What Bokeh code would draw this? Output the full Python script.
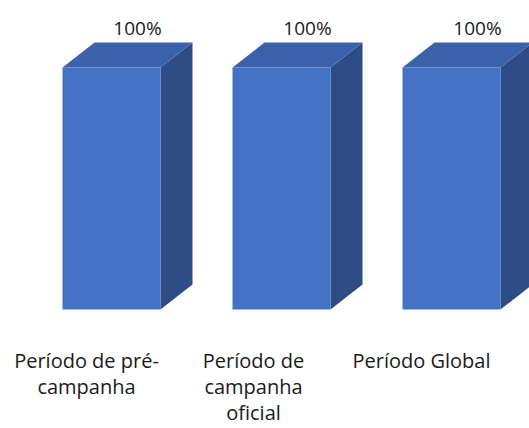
from bokeh.plotting import figure
from bokeh.models import Range1d
from bokeh.embed import file_html
from bokeh.resources import INLINE
from bokeh.core.properties import value

# ---- data ----
categories = ["Período de pré-\ncampanha", "Período de\ncampanha\noficial", "Período Global"]
values = [100, 100, 100]
value_labels = ["100%", "100%", "100%"]

# ---- layout (pixels -> data units) ----
W, H = 529, 428
PX_X = 170.0          # pixels per category
PX_Y = 2.42           # pixels per value unit
x0_px, y0_px = 111.0, 309.0   # pixel position of category 0, value 0
x_start = -x0_px / PX_X
x_end = (W - x0_px) / PX_X
y_end = y0_px / PX_Y
y_start = -(H - y0_px) / PX_Y

bar_w = 98 / PX_X
dx = 32 / PX_X
dy = 25 / PX_Y

p = figure(width=W, height=H, output_backend="svg", toolbar_location=None,
           x_range=Range1d(x_start, x_end), y_range=Range1d(y_start, y_end),
           min_border=0, outline_line_color=None)
p.axis.visible = False
p.grid.visible = False
p.background_fill_color = "white"
p.border_fill_color = "white"

front_xs, front_ys, top_xs, top_ys, side_xs, side_ys = [], [], [], [], [], []
for i, v in enumerate(values):
    l, r = i - bar_w / 2, i + bar_w / 2
    front_xs.append([l, r, r, l]); front_ys.append([0, 0, v, v])
    top_xs.append([l, r, r + dx, l + dx]); top_ys.append([v, v, v + dy, v + dy])
    side_xs.append([r, r + dx, r + dx, r]); side_ys.append([0, dy, v + dy, v])

p.patches(side_xs, side_ys, fill_color="#2E4D86", line_color=None)
p.patches(top_xs, top_ys, fill_color="#3A61A9", line_color=None)
p.patches(front_xs, front_ys, fill_color="#4472C4", line_color=None)

FIX = 7  # px correction of the rendered baseline

# value labels
lab_x = [i + 26 / PX_X for i in range(len(values))]
lab_y = [v + (67 - 34 + FIX) / PX_Y for v in values]
p.text(x=lab_x, y=lab_y, text=value_labels, text_align="center", text_baseline="alphabetic",
       text_font=value("Open Sans"), text_font_size="19px", text_color="#1a1a1a")

# category labels
cx, cy, ct = [], [], []
cat_offsets = [-25, -28, -30]
for i, c in enumerate(categories):
    for j, line in enumerate(c.split("\n")):
        cx.append(i + cat_offsets[i] / PX_X)
        cy.append(-(368 - y0_px + 26 * j - FIX - 1) / PX_Y)
        ct.append(line)
p.text(x=cx, y=cy, text=ct, text_align="center", text_baseline="alphabetic",
       text_font=value("Open Sans"), text_font_size="20px", text_color="#1a1a1a")

open("out.html", "w").write(file_html(p, INLINE))
